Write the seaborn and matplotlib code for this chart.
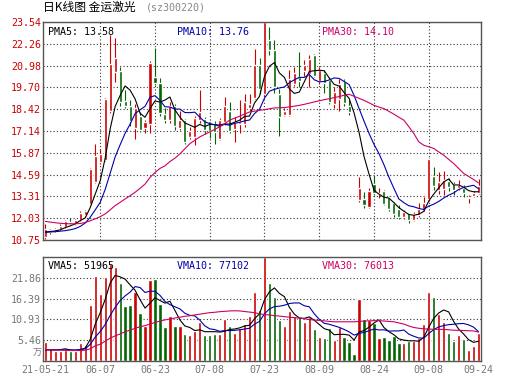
import numpy as np
import pandas as pd
import matplotlib
matplotlib.use("Agg")
import matplotlib.pyplot as plt
import seaborn as sns

sns.set_style("white")
plt.rcParams['font.family'] = ['DejaVu Sans Mono', 'Noto Sans CJK SC']
CJK = ['Noto Sans CJK SC', 'DejaVu Sans']

# daily candles, 2021-05-21 .. 2021-09-24
opens = [10.93, 11.22, 11.30, 11.42, 11.52, 11.80, 11.70, 11.92, 12.22, 12.86,
         14.17, 15.35, 15.47, 18.30, 20.60, 20.66, 18.90, 18.60, 17.35, 18.00,
         17.35, 17.58, 20.30, 19.98, 18.15, 17.80, 18.60, 17.35, 17.78, 16.80,
         16.80, 17.78, 17.83, 17.72, 17.55, 16.70, 17.68, 18.32, 17.29, 17.55,
         17.54, 18.50, 19.10, 21.03, 19.30, 22.50, 21.87, 19.30, 18.07, 18.07,
         19.92, 20.30, 20.64, 20.50, 21.60, 20.05, 20.55, 20.15, 18.70, 19.00,
         20.07, 18.62, 14.60, 13.09, 13.15, 12.70, 14.05, 13.42, 13.63, 13.29,
         12.94, 12.55, 12.12, 12.31, 11.90, 12.20, 12.55, 13.15, 14.50, 13.70,
         13.75, 14.22, 14.03, 13.78, 13.78, 13.20, 13.33, 13.52]
closes = [11.40, 11.32, 11.42, 11.60, 11.85, 11.70, 11.93, 12.35, 12.43, 14.89,
          15.67, 15.80, 19.00, 21.05, 21.45, 18.85, 18.60, 17.74, 18.52, 17.23,
          17.68, 21.15, 19.95, 18.20, 17.80, 18.60, 17.42, 17.78, 16.51, 17.15,
          17.93, 18.26, 17.19, 17.13, 17.10, 17.78, 18.60, 17.15, 17.68, 17.70,
          18.85, 18.70, 21.03, 19.63, 23.54, 21.87, 19.73, 17.97, 18.32, 20.20,
          20.54, 20.10, 20.99, 21.35, 20.40, 20.70, 19.97, 18.86, 19.45, 19.92,
          18.80, 18.25, 14.60, 13.78, 12.82, 13.64, 13.50, 13.48, 12.88, 12.55,
          12.28, 12.08, 12.41, 11.92, 12.30, 12.58, 12.94, 15.48, 13.92, 14.15,
          14.27, 13.84, 13.70, 13.95, 13.50, 13.28, 13.49, 13.91]
highs = [11.70, 11.40, 11.48, 11.66, 11.95, 12.02, 12.00, 12.45, 12.50, 14.95,
         16.40, 16.10, 19.10, 22.75, 22.60, 20.90, 19.55, 18.95, 18.70, 18.25,
         17.80, 21.25, 22.00, 20.27, 18.50, 18.85, 18.70, 18.30, 17.85, 17.40,
         18.00, 19.53, 17.95, 17.78, 17.75, 17.90, 19.15, 18.85, 17.95, 18.95,
         19.30, 19.30, 21.97, 21.40, 23.54, 23.23, 22.50, 19.60, 18.50, 20.70,
         20.90, 21.77, 21.30, 21.60, 21.65, 20.90, 20.70, 20.30, 19.70, 20.20,
         20.20, 18.95, 14.60, 14.46, 13.58, 13.78, 14.50, 13.82, 13.70, 13.35,
         12.98, 12.80, 12.50, 12.35, 12.40, 12.95, 13.30, 15.55, 15.05, 14.75,
         14.80, 14.40, 14.15, 14.28, 13.95, 13.40, 13.60, 14.30]
lows = [10.80, 11.10, 11.22, 11.36, 11.45, 11.62, 11.62, 11.88, 12.15, 12.80,
        14.10, 15.20, 15.40, 18.20, 20.00, 18.60, 18.50, 17.45, 16.66, 17.10,
        17.00, 17.00, 19.85, 18.00, 17.60, 17.60, 17.20, 17.20, 16.40, 16.70,
        16.30, 17.60, 16.95, 16.75, 16.40, 16.60, 17.50, 17.00, 16.50, 17.00,
        17.40, 18.30, 19.00, 19.30, 19.20, 21.58, 19.40, 16.85, 18.00, 18.00,
        19.80, 19.70, 20.40, 19.70, 20.30, 19.90, 19.40, 18.70, 18.50, 18.30,
        18.60, 18.10, 14.60, 13.00, 12.60, 12.60, 13.40, 13.23, 12.80, 12.45,
        12.10, 12.00, 12.00, 11.76, 11.85, 12.10, 12.45, 13.05, 13.70, 13.45,
        13.40, 13.60, 13.40, 13.70, 13.30, 12.90, 13.25, 13.45]

# price moving averages
ma5 = [11.22, 11.25, 11.28, 11.35, 11.48, 11.58, 11.70, 11.89, 12.05, 12.66,
       13.45, 14.23, 15.56, 17.28, 18.59, 19.23, 19.79, 19.54, 19.03, 18.19,
       17.95, 18.46, 18.91, 18.84, 18.96, 19.14, 18.39, 17.96, 17.62, 17.49,
       17.36, 17.53, 17.41, 17.53, 17.52, 17.49, 17.56, 17.55, 17.66, 17.78,
       18.00, 18.02, 18.79, 19.18, 20.35, 20.95, 21.16, 20.55, 20.29, 19.62,
       19.35, 19.43, 20.03, 20.64, 20.68, 20.71, 20.68, 20.26, 19.88, 19.78,
       19.40, 19.06, 18.20, 17.07, 15.65, 14.62, 13.67, 13.44, 13.26, 13.21,
       12.94, 12.65, 12.44, 12.25, 12.20, 12.26, 12.43, 13.04, 13.44, 13.81,
       14.15, 14.33, 13.98, 13.98, 13.85, 13.65, 13.58, 13.58]
ma10 = [11.20, 11.22, 11.24, 11.27, 11.30, 11.35, 11.42, 11.55, 11.75, 12.09,
        12.52, 12.96, 13.72, 14.67, 15.63, 16.34, 17.01, 17.55, 18.16, 18.39,
        18.59, 19.13, 19.22, 18.94, 18.57, 18.55, 18.43, 18.43, 18.23, 18.22,
        18.25, 17.96, 17.68, 17.58, 17.51, 17.42, 17.54, 17.48, 17.60, 17.65,
        17.74, 17.79, 18.17, 18.42, 19.07, 19.48, 19.59, 19.67, 19.73, 19.98,
        20.15, 20.29, 20.29, 20.46, 20.15, 20.03, 20.05, 20.14, 20.26, 20.23,
        20.05, 19.87, 19.23, 18.47, 17.72, 17.01, 16.36, 15.82, 15.17, 14.43,
        13.78, 13.16, 12.94, 12.76, 12.70, 12.60, 12.54, 12.74, 12.85, 13.01,
        13.21, 13.38, 13.51, 13.71, 13.83, 13.90, 13.96, 13.76]
ma30 = [11.84, 11.80, 11.76, 11.73, 11.71, 11.70, 11.70, 11.72, 11.78, 11.88,
        11.99, 12.12, 12.28, 12.52, 12.77, 12.96, 13.16, 13.35, 13.55, 13.78,
        14.03, 14.42, 14.71, 14.95, 15.10, 15.35, 15.55, 15.80, 16.10, 16.40,
        16.60, 16.80, 16.95, 17.09, 17.24, 17.39, 17.58, 17.78, 17.90, 18.01,
        18.14, 18.26, 18.31, 18.36, 18.40, 18.45, 18.50, 18.51, 18.52, 18.56,
        18.60, 18.65, 18.71, 18.78, 18.85, 18.92, 18.98, 19.04, 19.10, 19.17,
        19.24, 19.30, 19.18, 19.06, 18.94, 18.80, 18.65, 18.55, 18.46, 18.30,
        18.13, 17.95, 17.78, 17.40, 17.00, 16.51, 16.31, 16.22, 16.12, 15.92,
        15.73, 15.48, 15.24, 14.95, 14.66, 14.48, 14.30, 14.10]

# volume in 10k shares (万) and its moving averages
volume = [5.10, 3.30, 2.60, 2.60, 2.90, 2.60, 2.60, 4.60, 4.10, 14.80,
          22.30, 17.70, 22.10, 25.50, 24.80, 20.60, 14.50, 14.80, 18.20, 12.50,
          9.30, 21.30, 21.60, 15.00, 8.90, 11.90, 9.20, 9.20, 7.00, 6.90,
          7.80, 10.20, 6.70, 6.70, 7.20, 7.20, 11.00, 9.20, 7.30, 8.80,
          9.70, 11.80, 18.10, 13.40, 27.30, 20.60, 16.70, 10.75, 9.20, 13.10,
          11.80, 11.45, 10.30, 11.45, 8.40, 6.20, 5.95, 8.57, 5.50, 8.83,
          6.20, 4.90, 1.84, 16.26, 10.93, 10.75, 10.05, 5.95, 6.20, 5.50,
          6.56, 4.63, 4.63, 5.33, 5.33, 5.95, 9.70, 18.10, 16.70, 12.33,
          10.30, 7.26, 5.33, 6.82, 5.68, 2.88, 3.93, 7.43]
vma5 = [2.90, 2.90, 2.90, 3.00, 3.20, 2.90, 2.80, 3.00, 3.40, 5.70,
        9.70, 12.70, 16.20, 20.50, 22.50, 22.10, 21.50, 20.00, 18.60, 16.10,
        13.90, 15.20, 16.60, 15.90, 15.20, 15.70, 13.30, 10.80, 9.20, 8.80,
        8.00, 8.20, 7.70, 7.70, 7.70, 7.60, 7.80, 8.30, 8.40, 8.70,
        9.20, 9.40, 11.10, 12.40, 16.10, 18.20, 19.20, 17.75, 16.90, 14.10,
        12.30, 11.30, 11.20, 11.60, 10.70, 9.60, 8.50, 8.10, 6.90, 7.00,
        7.00, 6.80, 5.50, 7.60, 8.00, 8.90, 10.00, 10.80, 8.80, 7.70,
        6.90, 5.80, 5.50, 5.30, 5.30, 5.20, 6.20, 8.90, 11.20, 12.60,
        13.40, 12.90, 10.40, 8.40, 7.10, 5.60, 4.90, 5.20]
vma10 = [3.00, 3.00, 2.95, 2.95, 2.90, 2.90, 2.90, 3.00, 3.20, 4.40,
         6.30, 7.75, 9.60, 12.00, 14.10, 15.90, 17.10, 18.10, 19.55, 19.30,
         18.00, 18.35, 18.30, 17.25, 15.65, 14.80, 14.25, 13.70, 12.55, 12.00,
         11.85, 10.75, 9.25, 8.45, 8.25, 7.80, 8.00, 8.00, 8.05, 8.20,
         8.40, 8.60, 9.70, 10.40, 12.40, 13.70, 14.30, 14.40, 14.65, 15.10,
         15.25, 15.25, 14.50, 14.25, 12.40, 10.95, 9.90, 9.65, 9.25, 8.85,
         8.30, 7.65, 6.80, 7.25, 7.50, 7.95, 8.40, 8.15, 8.20, 7.85,
         7.90, 7.90, 8.15, 7.05, 6.50, 6.05, 6.00, 7.20, 8.25, 8.95,
         9.30, 9.55, 9.65, 9.80, 9.85, 9.50, 8.90, 7.71]
vma30 = [3.00, 2.95, 2.90, 2.85, 2.80, 2.75, 2.75, 2.75, 2.85, 3.20,
         4.00, 4.40, 5.20, 6.00, 6.60, 7.10, 7.70, 8.10, 8.60, 9.00,
         9.30, 9.70, 10.10, 10.50, 10.80, 11.00, 11.30, 11.50, 11.75, 11.90,
         12.10, 12.30, 12.50, 12.70, 12.80, 12.95, 13.05, 13.15, 13.20, 13.15,
         13.00, 12.85, 12.70, 12.40, 12.20, 12.10, 11.90, 11.80, 11.65, 11.50,
         11.40, 11.25, 11.10, 10.90, 10.75, 10.65, 10.55, 10.40, 10.30, 10.30,
         10.30, 10.30, 10.30, 10.40, 10.50, 10.55, 10.60, 10.60, 10.50, 10.40,
         10.30, 10.00, 9.70, 9.20, 8.80, 8.60, 8.45, 8.40, 8.35, 8.30,
         8.30, 8.20, 8.10, 8.05, 8.00, 7.95, 7.90, 7.60]

price_ticks = [10.75, 12.03, 13.31, 14.59, 15.87, 17.14, 18.42, 19.70, 20.98, 22.26, 23.54]
vol_ticks = [5.46, 10.93, 16.39, 21.86]
date_labels = ['21-05-21', '06-07', '06-23', '07-08', '07-23', '08-09', '08-24', '09-08', '09-24']
date_pos = [0, 11, 22, 33, 44, 55, 66, 77, 87]
grid_pos = [11, 22, 33, 44, 55, 66, 77]

RED = '#cc0000'
GREEN = '#006600'
BLUE = '#0000aa'
PINK = '#cc0066'
GRAY = '#777777'

df = pd.DataFrame({'day': np.arange(len(closes)), 'open': opens, 'close': closes,
                   'high': highs, 'low': lows, 'ma5': ma5, 'ma10': ma10, 'ma30': ma30,
                   'vol': volume, 'vma5': vma5, 'vma10': vma10, 'vma30': vma30})
df['color'] = np.where(df['close'] > df['open'], RED, GREEN)
df['body_low'] = df[['open', 'close']].min(axis=1)
df['body_h'] = (df['close'] - df['open']).abs().clip(lower=0.03)

fig = plt.figure(figsize=(5.3, 3.91), dpi=100)
ax1 = fig.add_axes([43/530, 151/391, 438/530, 218/391])
ax2 = fig.add_axes([43/530, 30/391, 438/530, 104/391])

# candles
ax1.vlines(df['day'], df['low'], df['high'], colors=df['color'], lw=0.8, zorder=3)
ax1.bar(df['day'], df['body_h'], bottom=df['body_low'], width=0.62,
        color=df['color'], zorder=4)
sns.lineplot(data=df, x='day', y='ma5', color='black', lw=0.8, ax=ax1, zorder=5)
sns.lineplot(data=df, x='day', y='ma10', color=BLUE, lw=0.8, ax=ax1, zorder=5)
sns.lineplot(data=df, x='day', y='ma30', color=PINK, lw=0.8, ax=ax1, zorder=5)

# volume
ax2.bar(df['day'], df['vol'], width=0.66, color=df['color'], zorder=3)
sns.lineplot(data=df, x='day', y='vma5', color='black', lw=0.8, ax=ax2, zorder=5)
sns.lineplot(data=df, x='day', y='vma10', color=BLUE, lw=0.8, ax=ax2, zorder=5)
sns.lineplot(data=df, x='day', y='vma30', color=PINK, lw=0.8, ax=ax2, zorder=5)

dots = (0, (1, 2))
for ax in (ax1, ax2):
    ax.set_xlim(-0.5, len(closes) - 0.5)
    ax.set_xlabel('')
    ax.set_ylabel('')
    ax.set_xticks(grid_pos, minor=True)
    ax.grid(False)
    ax.grid(True, which='minor', axis='x', ls=dots, color='#333333', lw=0.8)
    ax.grid(True, which='major', axis='y', ls=dots, color='#333333', lw=0.8)
    ax.tick_params(which='both', length=0)
    for s in ax.spines.values():
        s.set_color('#555555')
        s.set_linewidth(1)
        s.set_zorder(6)

ax1.set_ylim(10.75, 23.54)
ax1.set_yticks(price_ticks)
ax1.set_yticklabels(['%.2f' % t for t in price_ticks], color=RED, fontsize=7.2)
ax1.set_xticks([])
ax1.tick_params(axis='y', pad=1.5)

ax2.set_ylim(0, 27.32)
ax2.set_yticks(vol_ticks)
ax2.set_yticklabels(['%.2f' % t for t in vol_ticks], color=GRAY, fontsize=7.2)
ax2.set_xticks(date_pos)
ax2.set_xticklabels(date_labels, color=GRAY, fontsize=7.2)
ax2.tick_params(axis='y', pad=1.5)
ax2.tick_params(axis='x', pad=3)

# legends inside the panels
ax1.text(0.011, 0.953, 'PMA5: 13.58', transform=ax1.transAxes, va='center', fontsize=7.2, color='black', zorder=7)
ax1.text(0.307, 0.953, 'PMA10: 13.76', transform=ax1.transAxes, va='center', fontsize=7.2, color=BLUE, zorder=7)
ax1.text(0.637, 0.953, 'PMA30: 14.10', transform=ax1.transAxes, va='center', fontsize=7.2, color=PINK, zorder=7)
ax2.text(0.011, 0.909, 'VMA5: 51965', transform=ax2.transAxes, va='center', fontsize=7.2, color='black', zorder=7)
ax2.text(0.307, 0.909, 'VMA10: 77102', transform=ax2.transAxes, va='center', fontsize=7.2, color=BLUE, zorder=7)
ax2.text(0.638, 0.909, 'VMA30: 76013', transform=ax2.transAxes, va='center', fontsize=7.2, color=PINK, zorder=7)

# title and unit
fig.text(43/530, 1 - 7/391, '日K线图 金运激光', family=CJK, fontsize=8.5, va='center', color='black')
fig.text(146/530, 1 - 7/391, '(sz300220)', fontsize=7.2, va='center', color='#888888')
fig.text(37.5/530, 1 - 353/391, '万', family=CJK, fontsize=6.5, ha='center', va='center', color=GRAY)

fig.savefig('out.png', dpi=100)
